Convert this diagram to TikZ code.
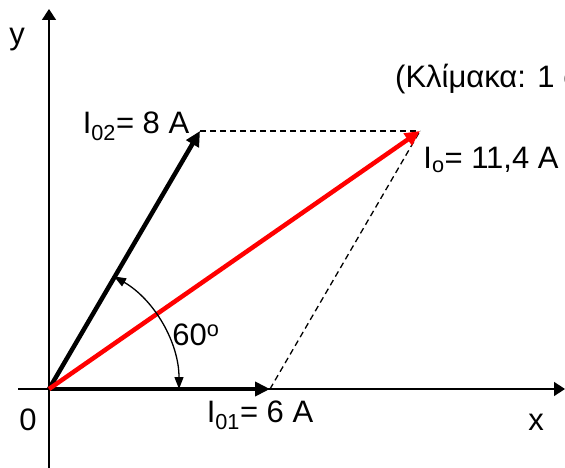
\documentclass[tikz,border=0pt]{standalone}
\usepackage{fontspec}
\setmainfont{Liberation Sans}
\usetikzlibrary{arrows.meta}
\begin{document}
\begin{tikzpicture}[x=1pt,y=-1pt,
  lbl/.style={inner sep=0pt,font=\fontsize{31}{33}\selectfont},
  axisline/.style={line width=1.5pt,-{Triangle[length=11pt,width=14pt]}},
  vec/.style={line width=4.5pt,-{Triangle[length=15pt,width=14pt]}},
  helper/.style={line width=1.3pt,dash pattern=on 6pt off 4pt},
  anglearc/.style={line width=1.3pt,{Triangle[length=12pt,width=9pt]}-{Triangle[length=12pt,width=9pt]}}]
\useasboundingbox (0,0) rectangle (565,468);
\begin{scope}
\clip (0,0) rectangle (565,468);
\coordinate (O) at (49,389);
\coordinate (xs) at (18,389);
\coordinate (xe) at (565,389);
\coordinate (ys) at (49,468);
\coordinate (ye) at (49,9);
\coordinate (A1) at (270,389);
\coordinate (A2) at (200,131);
\coordinate (A0) at (420,131);
\coordinate (arcstart) at (179,389);
% axes
\draw[axisline] (xs) -- (xe);
\draw[axisline] (ys) -- (ye);
% helper dashed lines
\draw[helper] (A2) -- (A0);
\draw[helper] (A1) -- (A0);
% vectors
\draw[vec] (O) -- (A1);
\draw[vec] (O) -- (A2);
\draw[vec,red] (O) -- (A0);
% angle arc
\draw[anglearc] (arcstart) arc[start angle=0,end angle=-60,radius=130];
% labels
\node[lbl] (ylab) at (17,40) {y};
\node[lbl] (zero) at (28,420) {0};
\node[lbl] (xlab) at (536,422) {x};
\node[lbl] (ang) at (196,335) {60\textsuperscript{o}};
\node[lbl] (l01) at (260,415) {I\textsubscript{01}= 6 A};
\node[lbl] (l02) at (136,126) {I\textsubscript{02}= 8 A};
\node[lbl] (l0) at (491,160) {I\textsubscript{o}= 11,4 A};
\node[lbl,anchor=west] (scale) at (395,79) {(Κλίμακα: 1 cm = 1 A)};
\end{scope}
\end{tikzpicture}
\end{document}
